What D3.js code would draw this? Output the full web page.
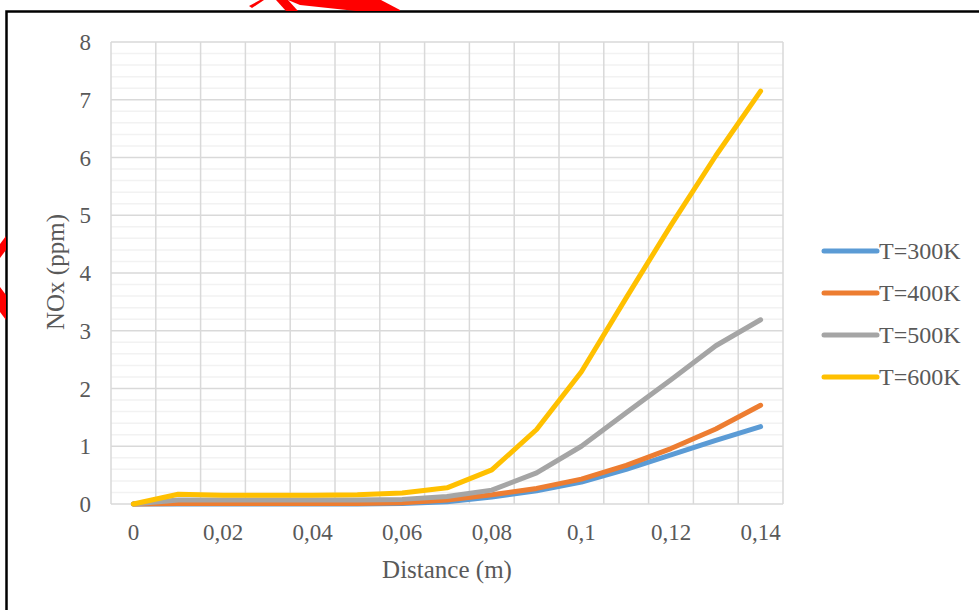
<!DOCTYPE html>
<html>
<head>
<meta charset="utf-8">
<script src="https://cdn.jsdelivr.net/npm/d3@7"></script>
<style>
  html, body { margin: 0; padding: 0; background: #fff; }
  svg { display: block; }
  text { font-family: "Liberation Serif", "Times New Roman", serif; fill: #595959; }
</style>
</head>
<body>
<svg id="chart" width="979" height="610"></svg>
<script>
// ---- data ----
const categories = [0, 0.01, 0.02, 0.03, 0.04, 0.05, 0.06, 0.07, 0.08, 0.09, 0.10, 0.11, 0.12, 0.13, 0.14];
const xTickLabels = ["0", "0,02", "0,04", "0,06", "0,08", "0,1", "0,12", "0,14"];
const yTicks = [0, 1, 2, 3, 4, 5, 6, 7, 8];
const seriesNames = ["T=300K", "T=400K", "T=500K", "T=600K"];
const t300 = [0, 0, 0, 0, 0, 0, 0.01, 0.04, 0.12, 0.23, 0.38, 0.60, 0.85, 1.10, 1.34];
const t400 = [0, 0.01, 0.01, 0.01, 0.01, 0.01, 0.02, 0.07, 0.16, 0.27, 0.43, 0.67, 0.96, 1.30, 1.71];
const t500 = [0, 0.07, 0.07, 0.07, 0.07, 0.07, 0.08, 0.13, 0.24, 0.54, 1.00, 1.58, 2.15, 2.74, 3.19];
const t600 = [0, 0.17, 0.15, 0.15, 0.15, 0.16, 0.19, 0.28, 0.59, 1.29, 2.29, 3.57, 4.83, 6.03, 7.15];
const seriesValues = [t300, t400, t500, t600];
const colors = ["#5b9bd5", "#ed7d31", "#a5a5a5", "#ffc000"];

// ---- layout ----
const svg = d3.select("#chart");
const plot = { left: 111, right: 783, top: 42, bottom: 504 };

const x = d3.scaleBand().domain(categories.map(String)).range([plot.left, plot.right]).padding(0);
const xc = c => x(String(c)) + x.bandwidth() / 2;
const y = d3.scaleLinear().domain([0, 8]).range([plot.bottom, plot.top]);

// outer border
svg.append("rect").attr("x", 6.5).attr("y", 11.5).attr("width", 1000).attr("height", 700)
  .attr("fill", "none").attr("stroke", "#000").attr("stroke-width", 2.5);

// red annotation marks
const red = svg.append("g").attr("fill", "#ff0000");
red.append("path").attr("d", "M249,6 L260,0 L264,0 L252,8 Z");
red.append("path").attr("d", "M276,0 L288,0 L298,11 L286,11 Z");
red.append("path").attr("d", "M288,0 L381,0 L400,10 L400,11 L356,11 L300,5 Z");
red.append("path").attr("d", "M0,244 L6,236 L6,250 L0,258 Z");
red.append("path").attr("d", "M0,287 L6,295 L6,320 L0,312 Z");

// minor horizontal gridlines
const minor = d3.range(0, 8.001, 0.2).filter(v => Math.abs(v - Math.round(v)) > 1e-6);
svg.append("g").selectAll("line").data(minor).join("line")
  .attr("x1", plot.left).attr("x2", plot.right)
  .attr("y1", d => y(d)).attr("y2", d => y(d))
  .attr("stroke", "#f2f2f2").attr("stroke-width", 1.5);

// vertical gridlines at category boundaries
const bounds = categories.map(c => x(String(c))).concat([plot.right]);
svg.append("g").selectAll("line").data(bounds).join("line")
  .attr("x1", d => d).attr("x2", d => d)
  .attr("y1", plot.top).attr("y2", plot.bottom)
  .attr("stroke", "#d9d9d9").attr("stroke-width", 1.5);

// major horizontal gridlines
svg.append("g").selectAll("line").data(yTicks).join("line")
  .attr("x1", plot.left).attr("x2", plot.right)
  .attr("y1", d => y(d)).attr("y2", d => y(d))
  .attr("stroke", "#d9d9d9").attr("stroke-width", 1.5);

// y tick labels
svg.append("g").selectAll("text").data(yTicks).join("text")
  .attr("x", 91).attr("y", d => y(d)).attr("dy", "0.35em")
  .attr("text-anchor", "end").attr("font-size", 23)
  .text(d => d);

// x tick labels (every other category)
const labelCats = categories.filter((c, i) => i % 2 === 0);
svg.append("g").selectAll("text").data(labelCats).join("text")
  .attr("x", d => xc(d)).attr("y", 540)
  .attr("text-anchor", "middle").attr("font-size", 23)
  .text((d, i) => xTickLabels[i]);

// axis titles
svg.append("text").attr("x", (plot.left + plot.right) / 2).attr("y", 578)
  .attr("text-anchor", "middle").attr("font-size", 25).text("Distance (m)");
svg.append("text").attr("transform", "translate(64,272) rotate(-90)")
  .attr("text-anchor", "middle").attr("font-size", 25).text("NOx (ppm)");

// series lines
const line = d3.line().x((d, i) => xc(categories[i])).y(d => y(d));
svg.append("g").selectAll("path").data(seriesValues).join("path")
  .attr("d", d => line(d))
  .attr("fill", "none")
  .attr("stroke", (d, i) => colors[i])
  .attr("stroke-width", 5)
  .attr("stroke-linecap", "round")
  .attr("stroke-linejoin", "round");

// legend
const legend = svg.append("g");
const legY = [251, 293, 335, 377];
seriesNames.forEach((name, i) => {
  legend.append("line").attr("x1", 824).attr("x2", 877)
    .attr("y1", legY[i]).attr("y2", legY[i])
    .attr("stroke", colors[i]).attr("stroke-width", 5).attr("stroke-linecap", "round");
  legend.append("text").attr("x", 879).attr("y", legY[i]).attr("dy", "0.35em")
    .attr("font-size", 24).text(name);
});
</script>
</body>
</html>
